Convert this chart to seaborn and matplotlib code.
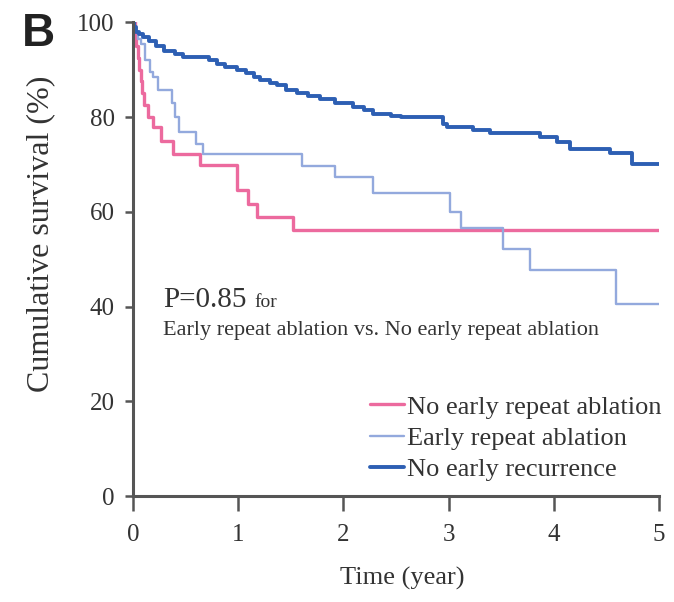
import pandas as pd
import numpy as np
import matplotlib.pyplot as plt
import seaborn as sns

### Kaplan-Meier curves ###

grupos = ['No early repeat ablation', 'Early repeat ablation', 'No early recurrence']

# No early repeat ablation (pink)
t_rosa = [0, 0.02, 0.03, 0.045, 0.06, 0.075, 0.09, 0.11, 0.14, 0.19, 0.27, 0.38,
          0.64, 0.99, 1.09, 1.18, 1.52, 5.0]
s_rosa = [100, 97, 95, 92.5, 90, 87.5, 85, 82.5, 80, 78, 75, 72.3,
          69.8, 64.6, 61.7, 58.9, 56.1, 56.1]

# Early repeat ablation (light blue)
t_azul_claro = [0, 0.02, 0.05, 0.08, 0.12, 0.16, 0.19, 0.24, 0.37, 0.40, 0.44,
                0.60, 0.67, 1.61, 1.92, 2.28, 3.01, 3.12, 3.52, 3.77, 4.59, 5.0]
s_azul_claro = [100, 98, 96.5, 95.5, 92, 89.5, 88.5, 85.6, 83, 80, 76.9,
                74.4, 72.3, 69.6, 67.4, 63.9, 60.0, 56.6, 52.1, 47.7, 40.5, 40.5]

# No early recurrence (dark blue)
t_azul = [0, 0.01, 0.03, 0.06, 0.10, 0.15, 0.22, 0.30, 0.40, 0.48, 0.72, 0.80,
          0.88, 0.99, 1.08, 1.15, 1.21, 1.30, 1.37, 1.46, 1.56, 1.66, 1.78,
          1.92, 2.09, 2.20, 2.28, 2.45, 2.55, 2.95, 2.98, 3.23, 3.39, 3.87,
          4.03, 4.15, 4.53, 4.74, 5.0]
s_azul = [100, 99, 98, 97.5, 96.9, 96, 95, 94, 93.4, 92.7, 92.0, 91.2,
          90.5, 89.9, 89.2, 88.5, 87.8, 87.2, 86.7, 85.8, 85.0, 84.5, 83.9,
          83.0, 82.1, 81.4, 80.7, 80.3, 80.0, 78.6, 77.9, 77.2, 76.7, 75.8,
          74.7, 73.3, 72.4, 70.0, 70.0]

df = pd.concat([
    pd.DataFrame({'Tempo': t_rosa, 'Sobrevida': s_rosa, 'Grupo': grupos[0]}),
    pd.DataFrame({'Tempo': t_azul_claro, 'Sobrevida': s_azul_claro, 'Grupo': grupos[1]}),
    pd.DataFrame({'Tempo': t_azul, 'Sobrevida': s_azul, 'Grupo': grupos[2]}),
], ignore_index=True)

cores = {grupos[0]: '#ec6a9e', grupos[1]: '#93a9dd', grupos[2]: '#2d5fb3'}
larguras = {grupos[0]: 2.4, grupos[1]: 1.7, grupos[2]: 2.8}

sns.set_style('ticks')
plt.rcParams['font.family'] = ['Liberation Serif', 'DejaVu Serif']

fig = plt.figure(figsize=(6.74, 6.02), dpi=100)
ax = fig.add_axes([0.197, 0.176, 0.781, 0.787])

sns.lineplot(data=df, x='Tempo', y='Sobrevida', hue='Grupo', size='Grupo',
             hue_order=grupos, palette=cores, sizes=larguras,
             estimator=None, sort=False, drawstyle='steps-post',
             legend=False, ax=ax)

ax.set_xlim(0, 5)
ax.set_ylim(0, 100)
ax.set_xticks(range(0, 6))
ax.set_yticks(range(0, 101, 20))
sns.despine(ax=ax)
for lado in ['left', 'bottom']:
    ax.spines[lado].set_linewidth(2.2)
    ax.spines[lado].set_color('#555555')
ax.tick_params(axis='both', width=1.8, color='#555555',
               labelsize=18, labelcolor='#333333')
ax.tick_params(axis='x', length=11, pad=9)
ax.tick_params(axis='y', length=6, pad=7)

ax.set_xlabel('Time (year)', fontsize=19, color='#333333', va='top')
ax.xaxis.set_label_coords(0.511, -0.150)
ax.set_ylabel('Cumulative survival (%)', fontsize=23, color='#333333')
ax.yaxis.set_label_coords(-0.148, 0.553)

# P-value annotation
ax.text(0.285, 39.9, 'P=0.85', fontsize=21, color='#333333', va='baseline')
ax.text(1.16, 39.9, 'for', fontsize=14, color='#333333', va='baseline')
ax.text(0.285, 34.0, 'Early repeat ablation vs. No early repeat ablation',
        fontsize=16, color='#333333', va='baseline')

leg = ax.legend(ax.get_lines()[:3], grupos, loc='upper left',
                bbox_to_anchor=(0.45, 0.213), frameon=False, fontsize=19,
                handlelength=1.3, handletextpad=0.12, labelspacing=0.3,
                borderaxespad=0, borderpad=0)
for txt in leg.get_texts():
    txt.set_color('#333333')

fig.text(22 / 674, 1 - 12 / 602, 'B', fontsize=33, fontweight='bold',
         family='Liberation Sans', va='top', ha='left', color='#222222')

plt.savefig('out.png', dpi=100)
